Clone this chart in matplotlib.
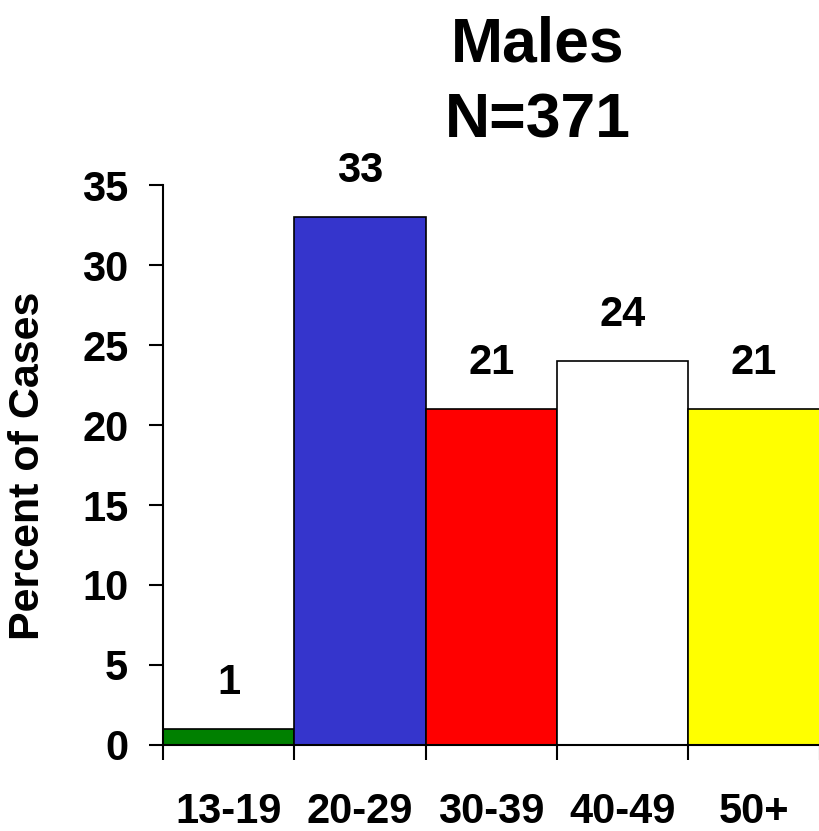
"""Males age distribution: percent of cases by age group."""

import matplotlib

matplotlib.use("Agg")
import matplotlib.pyplot as plt
import numpy as np

# data
age_groups = ["13-19", "20-29", "30-39", "40-49", "50+"]
percent_cases = [1, 33, 21, 24, 21]
bar_colors = ["#008000", "#3535CC", "#FF0000", "#FFFFFF", "#FFFF00"]
y_ticks = [0, 5, 10, 15, 20, 25, 30, 35]

plt.rcParams["font.family"] = ["Liberation Sans", "DejaVu Sans"]
plt.rcParams["font.weight"] = "bold"

fig = plt.figure(figsize=(8.2, 8.31), dpi=100)
ax = fig.add_axes([163 / 820, 1 - 745 / 831, 656.5 / 820, 560 / 831])

x = np.arange(len(age_groups))
ax.bar(x, percent_cases, width=1.0, color=bar_colors, edgecolor="black", linewidth=1.2, zorder=2)

for xi, v in zip(x, percent_cases):
    ax.text(xi, v + 1.6, str(v), ha="center", va="bottom", fontsize=30, fontweight="bold")

ax.set_xlim(-0.5, len(age_groups) - 0.5)
ax.set_ylim(0, 35)
ax.set_yticks(y_ticks)
ax.tick_params(axis="y", labelsize=30, length=10, width=1.5, pad=15, direction="out")

# ticks at bar boundaries, labels centred under bars
ax.set_xticks(np.arange(len(age_groups) + 1) - 0.5)
ax.set_xticklabels([])
ax.tick_params(axis="x", which="major", length=11, width=1.5, direction="out")
ax.set_xticks(x, minor=True)
ax.set_xticklabels(age_groups, minor=True, fontsize=30, fontweight="bold")
ax.tick_params(axis="x", which="minor", length=0, pad=34)

for side in ["top", "right"]:
    ax.spines[side].set_visible(False)
for side in ["left", "bottom"]:
    ax.spines[side].set_linewidth(1.5)

fig.text(28 / 820, 1 - 466 / 831, "Percent of Cases", rotation=90, ha="center", va="center",
         fontsize=31, fontweight="bold")

fig.text(538 / 820, 1 - 62 / 831, "Males", ha="center", va="baseline", fontsize=45, fontweight="bold")
fig.text(538 / 820, 1 - 137 / 831, "N=371", ha="center", va="baseline", fontsize=45, fontweight="bold")

fig.savefig("out.png", dpi=100)
